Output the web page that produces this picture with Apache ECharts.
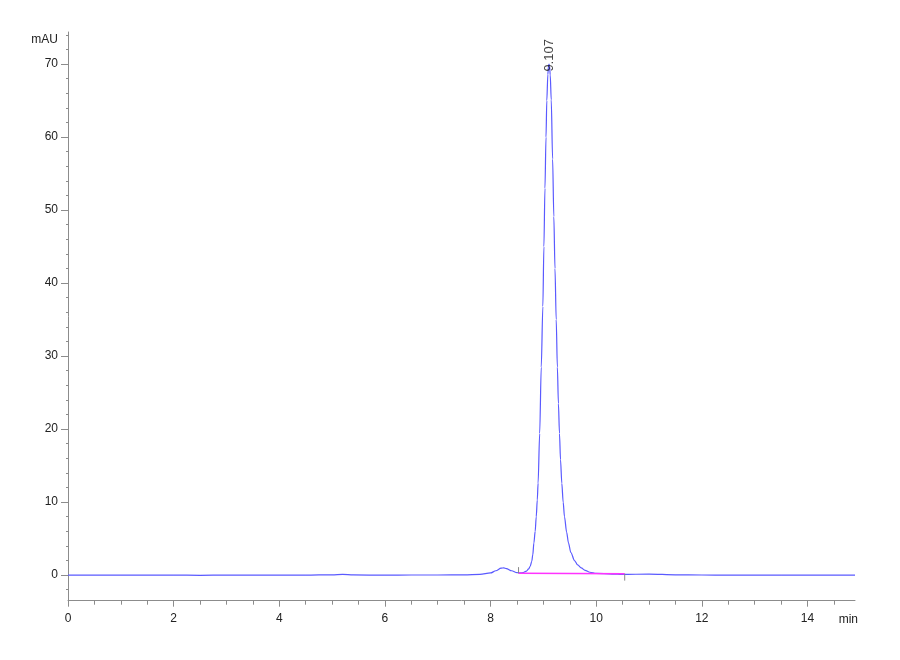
<!DOCTYPE html>
<html>
<head>
<meta charset="utf-8">
<script src="https://cdn.jsdelivr.net/npm/echarts@6/dist/echarts.min.js"></script>
<style>html,body{margin:0;padding:0;background:#fff;}#c{width:900px;height:660px;}</style>
</head>
<body>
<div id="c"></div>
<script>
// Retention time (min) and absorbance (mAU)
const times = [0, 0.5, 1, 1.5, 2, 2.5, 3, 3.5, 4, 4.5, 5, 5.2, 5.4, 6, 6.5, 7, 7.5, 7.8, 8.0, 8.1, 8.2, 8.25, 8.3, 8.4, 8.5, 8.55, 8.62, 8.68, 8.72, 8.75, 8.78, 8.8, 8.82, 8.845, 8.865, 8.885, 8.9, 8.93, 8.96, 8.99, 9.01, 9.03, 9.05, 9.065, 9.085, 9.097, 9.107, 9.117, 9.13, 9.149, 9.175, 9.198, 9.22, 9.243, 9.265, 9.285, 9.305, 9.325, 9.349, 9.375, 9.4, 9.44, 9.476, 9.52, 9.59, 9.65, 9.716, 9.79, 9.88, 10.0, 10.3, 10.5, 11.0, 11.5, 12.0, 12.5, 13.0, 13.5, 14.0, 14.5, 14.9];
const signal = [0, 0.02, 0, 0.02, 0, -0.02, 0, 0, 0.02, 0, 0.05, 0.1, 0.03, 0, 0.02, 0.02, 0.05, 0.1, 0.3, 0.6, 0.95, 1.0, 0.9, 0.6, 0.35, 0.3, 0.35, 0.55, 0.85, 1.2, 1.9, 2.8, 4.4, 6.0, 8.0, 10.3, 12.6, 19.4, 28.5, 36.8, 45, 53, 60, 65, 68.6, 69.7, 70.0, 69.7, 68.5, 65.1, 57, 49.1, 42, 35, 28.5, 23.5, 19.4, 15.8, 12.6, 10.0, 8.0, 5.9, 4.4, 3.1, 2.0, 1.4, 1.0, 0.65, 0.4, 0.25, 0.15, 0.1, 0.15, 0.05, 0.02, 0, 0.02, 0, 0, 0, 0];
const peakTime = 9.107;
const peakHeight = 70.0;
const peakLabel = '9.107';
const baselineTimes = [8.53, 10.54];
const baselineValues = [0.25, 0.2];
const startMark = [0.25, 1.1];
const endMark = [0.2, -0.75];
const xMajor = [0, 2, 4, 6, 8, 10, 12, 14];
const xMinor = [0.5, 1, 1.5, 2.5, 3, 3.5, 4.5, 5, 5.5, 6.5, 7, 7.5, 8.5, 9, 9.5, 10.5, 11, 11.5, 12.5, 13, 13.5, 14.5];
const yMajor = [0, 10, 20, 30, 40, 50, 60, 70];
const yMinor = [-2, 2, 4, 6, 8, 12, 14, 16, 18, 22, 24, 26, 28, 32, 34, 36, 38, 42, 44, 46, 48, 52, 54, 56, 58, 62, 64, 66, 68, 72, 74];
const xUnit = 'min';
const yUnit = 'mAU';

const X_MIN = 0, X_MAX = 14.9, Y_MIN = -3.5, Y_MAX = 74.4;
const axisGray = '#8c8c8c';
const font = 'Liberation Sans, Arial, sans-serif';

const trace = times.map((t, i) => [t, signal[i]]);
const baseline = baselineTimes.map((t, i) => [t, baselineValues[i]]);
const startTick = startMark.map(v => [baselineTimes[0], v]);
const endTick = endMark.map(v => [baselineTimes[1], v]);

const chart = echarts.init(document.getElementById('c'));
chart.setOption({
  animation: false,
  backgroundColor: '#fff',
  grid: { left: 68, right: 45, top: 32, bottom: 59.3, containLabel: false },
  graphic: [
    { type: 'text', right: 42, top: 614, style: { text: xUnit, fill: '#222', font: '12px ' + font } }
  ],
  xAxis: [
    {
      type: 'value', min: X_MIN, max: X_MAX, position: 'bottom',
      axisLine: { show: true, onZero: false, lineStyle: { color: axisGray, width: 1 } },
      axisTick: { show: true, customValues: xMinor, length: 4, lineStyle: { color: axisGray } },
      axisLabel: { show: false },
      splitLine: { show: false }
    },
    {
      type: 'value', min: X_MIN, max: X_MAX, position: 'bottom',
      axisLine: { show: false, onZero: false },
      axisTick: { show: true, customValues: xMajor, length: 6, lineStyle: { color: axisGray } },
      axisLabel: { show: true, customValues: xMajor, margin: 12, color: '#222', fontSize: 12, fontFamily: font },
      splitLine: { show: false }
    }
  ],
  yAxis: [
    {
      type: 'value', min: Y_MIN, max: Y_MAX, position: 'left',
      axisLine: { show: true, onZero: false, lineStyle: { color: axisGray, width: 1 } },
      axisTick: { show: true, customValues: yMinor, length: 2, lineStyle: { color: axisGray } },
      axisLabel: { show: false },
      splitLine: { show: false }
    },
    {
      type: 'value', min: Y_MIN, max: Y_MAX, position: 'left',
      axisLine: { show: false, onZero: false },
      axisTick: { show: true, customValues: yMajor, length: 7, lineStyle: { color: axisGray } },
      axisLabel: { show: true, customValues: yMajor, margin: 10, color: '#222', fontSize: 12, fontFamily: font },
      splitLine: { show: false },
      name: yUnit, nameLocation: 'end', nameGap: -8,
      nameTextStyle: { color: '#222', fontSize: 12, fontFamily: font, align: 'right', verticalAlign: 'middle', padding: [0, 10, 0, 0] }
    }
  ],
  series: [
    {
      type: 'line', data: trace, xAxisIndex: 0, yAxisIndex: 0,
      showSymbol: false, smooth: 0.3, smoothMonotone: 'x',
      lineStyle: { color: '#5a5aff', width: 1.2 }, silent: true, z: 2
    },
    {
      type: 'line', data: baseline, xAxisIndex: 0, yAxisIndex: 0,
      showSymbol: false, lineStyle: { color: '#ff33ff', width: 1.5 }, silent: true, z: 3
    },
    {
      type: 'line', data: startTick, xAxisIndex: 0, yAxisIndex: 0,
      showSymbol: false, lineStyle: { color: '#888', width: 1 }, silent: true, z: 3
    },
    {
      type: 'line', data: endTick, xAxisIndex: 0, yAxisIndex: 0,
      showSymbol: false, lineStyle: { color: '#888', width: 1 }, silent: true, z: 3
    },
    {
      type: 'scatter', data: [[peakTime, peakHeight]], xAxisIndex: 0, yAxisIndex: 0,
      symbolSize: 1, itemStyle: { color: 'rgba(0,0,0,0)' }, silent: true, z: 4,
      label: {
        show: true, formatter: peakLabel, rotate: 90, position: [0.5, 8],
        align: 'left', verticalAlign: 'middle',
        color: '#111', fontSize: 13, fontFamily: font
      }
    }
  ]
});
</script>
</body>
</html>
